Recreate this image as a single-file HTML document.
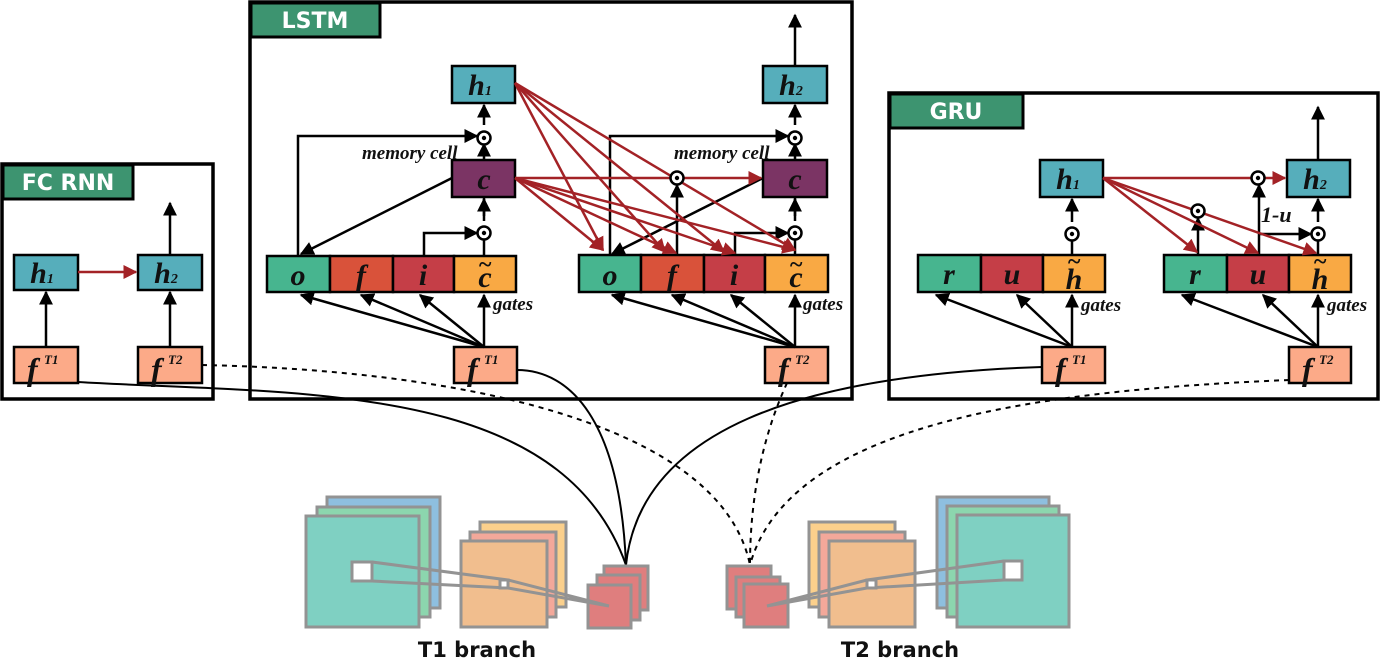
<!DOCTYPE html>
<html><head><meta charset="utf-8"><style>
html,body{margin:0;padding:0;background:#fff}
svg{display:block}
.t{font-family:"Liberation Serif",serif;font-weight:bold;font-style:italic}
.s{font-family:"DejaVu Sans","Liberation Sans",sans-serif;font-weight:bold}
</style></head><body>
<svg width="1381" height="662" viewBox="0 0 1381 662" xmlns="http://www.w3.org/2000/svg">
<defs>
<marker id="ab" viewBox="0 0 10 10" refX="9" refY="5" markerWidth="14" markerHeight="14" orient="auto" markerUnits="userSpaceOnUse"><path d="M0,0 L10,5 L0,10 z" fill="#000"/></marker>
<marker id="r" viewBox="0 0 10 10" refX="9" refY="5" markerWidth="14" markerHeight="14" orient="auto" markerUnits="userSpaceOnUse"><path d="M0,0 L10,5 L0,10 z" fill="#a32226"/></marker>
</defs>
<g fill="none" stroke="#000" stroke-width="3.5">
<rect x="2" y="164" width="211" height="235"/>
<rect x="250" y="2" width="602" height="397"/>
<rect x="889" y="93" width="489" height="306"/>
</g>
<g stroke="#000" stroke-width="3" fill="#3d9470">
<rect x="3" y="165" width="130" height="34"/>
<rect x="251" y="3" width="129" height="34"/>
<rect x="890" y="94" width="133" height="34"/>
</g>
<g class="s" fill="#fff" font-size="22" text-anchor="middle">
<text x="68" y="190">FC RNN</text><text x="315" y="28">LSTM</text><text x="956" y="119">GRU</text>
</g>

<g fill="none" stroke="#000" stroke-width="2">
<path d="M78,382 C300,395 560,380 626,565"/>
<path d="M517,370 C570,370 620,420 626,565"/>
<path d="M1042,367 C800,375 640,430 626,565"/>
</g>
<g fill="none" stroke="#000" stroke-width="2" stroke-dasharray="5,5">
<path d="M202,365 C450,370 720,420 750,565"/>
<path d="M787,383 C770,420 750,480 750,565"/>
<path d="M1289,380 C1050,390 790,420 750,565"/>
</g>

<g stroke="#000" stroke-width="2.5">
<rect x="14" y="255" width="64" height="35" fill="#56aebb"/>
<rect x="138" y="255" width="64" height="35" fill="#56aebb"/>
<rect x="14" y="347" width="64" height="36" fill="#fcaa88"/>
<rect x="138" y="347" width="64" height="36" fill="#fcaa88"/>
<rect x="452" y="66" width="63" height="37" fill="#56aebb"/>
<rect x="452" y="160" width="63" height="37" fill="#7b3464"/>
<rect x="267" y="256" width="63" height="36" fill="#47b58f"/>
<rect x="330" y="256" width="63" height="36" fill="#d9523a"/>
<rect x="393" y="256" width="61" height="36" fill="#c53e47"/>
<rect x="454" y="256" width="62" height="36" fill="#f9a944"/>
<rect x="454" y="347" width="63" height="36" fill="#fcaa88"/>
<rect x="763" y="66" width="64" height="37" fill="#56aebb"/>
<rect x="763" y="160" width="64" height="37" fill="#7b3464"/>
<rect x="579" y="255" width="62" height="37" fill="#47b58f"/>
<rect x="641" y="255" width="63" height="37" fill="#d9523a"/>
<rect x="704" y="255" width="61" height="37" fill="#c53e47"/>
<rect x="765" y="255" width="63" height="37" fill="#f9a944"/>
<rect x="765" y="347" width="63" height="36" fill="#fcaa88"/>
<rect x="1040" y="160" width="63" height="37" fill="#56aebb"/>
<rect x="918" y="255" width="63" height="37" fill="#47b58f"/>
<rect x="981" y="255" width="62" height="37" fill="#c53e47"/>
<rect x="1043" y="255" width="62" height="37" fill="#f9a944"/>
<rect x="1042" y="347" width="63" height="36" fill="#fcaa88"/>
<rect x="1287" y="160" width="63" height="37" fill="#56aebb"/>
<rect x="1164" y="255" width="63" height="37" fill="#47b58f"/>
<rect x="1227" y="255" width="62" height="37" fill="#c53e47"/>
<rect x="1289" y="255" width="62" height="37" fill="#f9a944"/>
<rect x="1289" y="347" width="62" height="36" fill="#fcaa88"/>
</g>

<g fill="none" stroke="#000" stroke-width="2.5" marker-end="url(#ab)">
<path d="M46,347 V292"/><path d="M170,347 V292"/><path d="M170,255 V203"/>
<path d="M484,125 V105"/><path d="M484,160 V144"/><path d="M484,221 V199"/>
<path d="M298,256 V136 H477"/><path d="M452,178 L301,254"/><path d="M424,256 V233 H477"/>
<path d="M484,347 L301,295"/><path d="M484,347 L361,295"/><path d="M484,347 L420,295"/><path d="M484,347 V295"/>
<path d="M795,66 V15"/><path d="M795,125 V105"/><path d="M795,160 V144"/><path d="M795,221 V199"/>
<path d="M610,255 V136 H788"/><path d="M763,178 L612,254"/><path d="M735,255 V233 H788"/>
<path d="M677,255 V185"/>
<path d="M795,347 L612,295"/><path d="M795,347 L672,295"/><path d="M795,347 L731,295"/><path d="M795,347 V295"/>
<path d="M1072,222 V199"/>
<path d="M1072,347 L936,295"/><path d="M1072,347 L1017,295"/><path d="M1072,347 V295"/>
<path d="M1318,160 V107"/><path d="M1318,222 V199"/>
<path d="M1259,255 V185"/><path d="M1198,255 V218"/><path d="M1259,234 H1311"/>
<path d="M1318,347 L1182,295"/><path d="M1318,347 L1263,295"/><path d="M1318,347 V295"/>
</g>
<g fill="none" stroke="#000" stroke-width="2.5"><path d="M484,197 V216"/><path d="M795,197 V216"/><path d="M484,256 V240"/><path d="M795,255 V240"/><path d="M1072,255 V240"/><path d="M1318,255 V240"/></g>

<g fill="none" stroke="#a32226" stroke-width="2.5" marker-end="url(#r)">
<path d="M78,272 H136"/>
<path d="M515,178 H761"/>
<path d="M515,83 L603,250"/><path d="M515,83 L665,252"/><path d="M515,83 L724,252"/><path d="M515,83 L795,250"/>
<path d="M515,178 L603,250"/><path d="M515,178 L676,253"/><path d="M515,178 L735,253"/><path d="M515,178 L795,250"/>
<path d="M1103,178 H1285"/>
<path d="M1103,178 L1197,252"/><path d="M1103,178 L1258,253"/><path d="M1103,178 L1316,253"/>
</g>

<g stroke="#000" stroke-width="2.5" fill="#fff">
<circle cx="484" cy="138" r="6.5"/><circle cx="484" cy="233" r="6.5"/>
<circle cx="795" cy="138" r="6.5"/><circle cx="795" cy="233" r="6.5"/><circle cx="677" cy="178" r="6.5"/>
<circle cx="1072" cy="234" r="6.5"/><circle cx="1258" cy="178" r="6.5"/><circle cx="1198" cy="211" r="6.5"/><circle cx="1318" cy="234" r="6.5"/>
</g>
<g fill="#000">
<circle cx="484" cy="138" r="2.2"/><circle cx="484" cy="233" r="2.2"/>
<circle cx="795" cy="138" r="2.2"/><circle cx="795" cy="233" r="2.2"/><circle cx="677" cy="178" r="2.2"/>
<circle cx="1072" cy="234" r="2.2"/><circle cx="1258" cy="178" r="2.2"/><circle cx="1198" cy="211" r="2.2"/><circle cx="1318" cy="234" r="2.2"/>
</g>

<g class="t" fill="#111" font-size="30" text-anchor="middle">
<text x="42" y="283">h<tspan font-size="14">1</tspan></text>
<text x="166" y="283">h<tspan font-size="14">2</tspan></text>
<text x="480" y="95">h<tspan font-size="14">1</tspan></text>
<text x="791" y="95">h<tspan font-size="14">2</tspan></text>
<text x="1068" y="189">h<tspan font-size="14">1</tspan></text>
<text x="1315" y="189">h<tspan font-size="14">2</tspan></text>
<text x="484" y="189">c</text><text x="795" y="189">c</text>
<text x="298" y="285">o</text><text x="361" y="285">f</text><text x="423" y="285">i</text><text x="485" y="287">c</text>
<text x="610" y="285">o</text><text x="672" y="285">f</text><text x="734" y="285">i</text><text x="796" y="287">c</text>
<text x="949" y="284">r</text><text x="1012" y="284">u</text><text x="1074" y="289">h</text>
<text x="1195" y="284">r</text><text x="1258" y="284">u</text><text x="1320" y="289">h</text>
</g>
<g class="t" fill="#111" font-size="24" text-anchor="middle">
<text x="485" y="272">~</text><text x="796" y="272">~</text><text x="1074" y="269">~</text><text x="1320" y="269">~</text>
</g>
<g class="t" fill="#111" font-size="32">
<text x="27" y="380">f</text><text x="151" y="380">f</text><text x="467" y="380">f</text>
<text x="778" y="380">f</text><text x="1055" y="380">f</text><text x="1302" y="380">f</text>
</g>
<g class="t" fill="#111" font-size="13">
<text x="44" y="364">T1</text><text x="168" y="364">T2</text><text x="484" y="364">T1</text>
<text x="795" y="364">T2</text><text x="1072" y="364">T1</text><text x="1319" y="364">T2</text>
</g>
<g class="t" fill="#111" font-size="19">
<text x="362" y="159">memory cell</text><text x="674" y="159">memory cell</text>
<text x="493" y="310">gates</text><text x="803" y="310">gates</text>
<text x="1081" y="311">gates</text><text x="1327" y="311">gates</text>
<text x="1261" y="222" font-size="22">1-u</text>
</g>

<g stroke="#939393" stroke-width="3">
<rect x="327" y="497" width="113" height="111" fill="#8ebfdf"/>
<rect x="317" y="507" width="113" height="110" fill="#8cd6ae"/>
<rect x="306" y="516" width="113" height="111" fill="#7fd0c2"/>
<rect x="480" y="522" width="86" height="85" fill="#fbd08c"/>
<rect x="470" y="532" width="86" height="85" fill="#f3a89a"/>
<rect x="461" y="541" width="86" height="86" fill="#f1be8e"/>
<rect x="604" y="566" width="44" height="44" fill="#df7e7e"/>
<rect x="597" y="575" width="43" height="45" fill="#df7e7e"/>
<rect x="588" y="585" width="43" height="43" fill="#df7e7e"/>
<rect x="937" y="497" width="112" height="111" fill="#8ebfdf"/>
<rect x="947" y="506" width="112" height="111" fill="#8cd6ae"/>
<rect x="957" y="515" width="112" height="112" fill="#7fd0c2"/>
<rect x="809" y="522" width="86" height="85" fill="#fbd08c"/>
<rect x="819" y="532" width="86" height="85" fill="#f3a89a"/>
<rect x="829" y="541" width="86" height="86" fill="#f1be8e"/>
<rect x="727" y="566" width="44" height="43" fill="#df7e7e"/>
<rect x="736" y="577" width="44" height="40" fill="#df7e7e"/>
<rect x="744" y="584" width="44" height="43" fill="#df7e7e"/>
</g>
<g stroke="#939393" stroke-width="3" fill="none">
<path d="M372,562 L508,580 L609,606 L508,588 L372,581"/>
<path d="M1004,561 L867,580 L767,606 L867,588 L1004,580"/>
</g>
<g stroke="#939393" stroke-width="3" fill="#fff">
<rect x="352" y="562" width="20" height="19"/><rect x="500" y="580" width="8" height="8"/>
<rect x="1004" y="561" width="18" height="19"/><rect x="867" y="580" width="9" height="8"/>
</g>
<g class="s" font-size="21" fill="#111" text-anchor="middle">
<text x="477" y="657">T1 branch</text><text x="900" y="657">T2 branch</text>
</g>
</svg>
</body></html>
